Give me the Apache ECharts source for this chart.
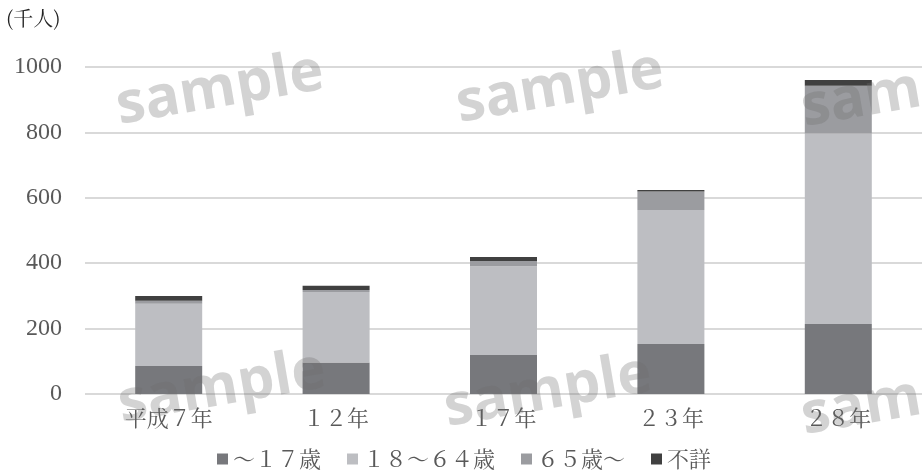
<!DOCTYPE html>
<html>
<head>
<meta charset="utf-8">
<script src="https://cdn.jsdelivr.net/npm/echarts@6/dist/echarts.min.js"></script>
<style>html,body{margin:0;padding:0;background:#fff;}#c{width:922px;height:472px;}</style>
</head>
<body>
<div id="c"></div>
<script>
const categories = ['平成７年', '１２年', '１７年', '２３年', '２８年'];
const seriesNames = ['～１７歳', '１８～６４歳', '６５歳～', '不詳'];
const under17 = [86, 96, 119, 153, 214];
const age18to64 = [190, 216, 272, 410, 583];
const over65 = [9, 6, 16, 56, 146];
const unknown = [15, 13, 12, 5, 17];
const yTicks = [0, 200, 400, 600, 800, 1000];
const colors = ['#77787c', '#bdbec2', '#9b9ca0', '#404040'];

const numFont = 'Liberation Serif';
const cjkFont = 'Noto Serif CJK JP';

const dataSets = [under17, age18to64, over65, unknown];
const series = seriesNames.map((n, i) => ({
  name: n,
  type: 'bar',
  stack: 'total',
  barWidth: 67,
  data: dataSets[i],
  itemStyle: { color: colors[i] }
}));

const wmPos = [[220, 90], [560, 88], [222, 388], [548, 392], [905, 92], [905, 400]];
const graphic = wmPos.map(p => ({
  type: 'text',
  x: p[0], y: p[1],
  rotation: 0.17,
  z: 100,
  silent: true,
  style: {
    text: 'sample',
    fontSize: 58, fontWeight: 'bold', fontFamily: 'Open Sans',
    fill: 'rgba(110,110,110,0.30)',
    align: 'center',
    verticalAlign: 'middle'
  }
}));
graphic.push({
  type: 'text', left: 6, top: 8, z: 10,
  style: { text: '(千人)', fontSize: 20, fontFamily: cjkFont, fill: '#222' }
});

const chart = echarts.init(document.getElementById('c'));
chart.setOption({
  animation: false,
  backgroundColor: '#fff',
  grid: { left: 85, right: -6, top: 67, bottom: 78 },
  legend: {
    left: 212, top: 443,
    itemWidth: 11, itemHeight: 11, itemGap: 26,
    icon: 'rect',
    data: seriesNames,
    textStyle: { fontSize: 22, color: '#595959', fontFamily: cjkFont }
  },
  xAxis: {
    type: 'category',
    data: categories,
    axisLine: { show: false },
    axisTick: { show: false },
    axisLabel: { fontSize: 22, color: '#595959', margin: 13, fontFamily: cjkFont }
  },
  yAxis: {
    type: 'value',
    min: yTicks[0], max: yTicks[yTicks.length - 1], interval: 200,
    axisLine: { show: false },
    axisTick: { show: false },
    axisLabel: { fontSize: 24, color: '#595959', margin: 23, fontFamily: numFont,
                 formatter: v => String(v) },
    splitLine: { lineStyle: { color: '#d9d9d9', width: 2 } }
  },
  series: series,
  graphic: graphic
});
</script>
</body>
</html>
